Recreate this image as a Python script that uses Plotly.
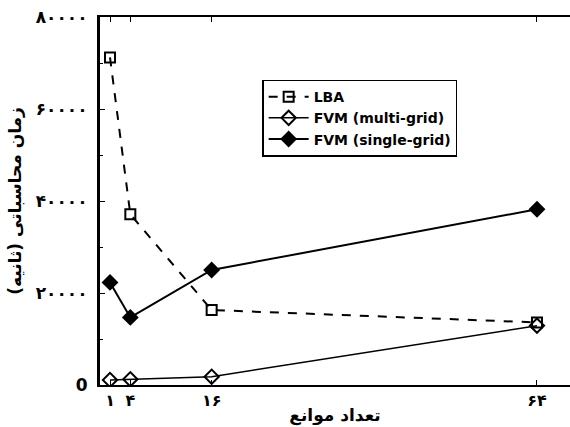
import plotly.graph_objects as go

obstacles = [1, 4, 16, 64]
lba = [71200, 37100, 16300, 13600]
fvm_multi = [1100, 1250, 1800, 12900]
fvm_single = [22300, 14700, 25000, 38200]

x_tick_vals = [1, 4, 16, 64]
x_tick_text = ["۱", "۴", "۱۶", "۶۴"]
y_tick_vals = [0, 20000, 40000, 60000, 80000]
y_tick_text = ["0", "۲۰۰۰۰", "۴۰۰۰۰", "۶۰۰۰۰", "۸۰۰۰۰"]

x_title = "تعداد موانع"
y_title = "زمان محاسباتی (ثانیه)"

fig = go.Figure()
fig.add_trace(go.Scatter(
    x=obstacles, y=lba, name="LBA", mode="lines+markers",
    line=dict(color="black", width=2, dash="dash"),
    marker=dict(symbol="square-open", size=10, color="black", line=dict(width=2)),
))
fig.add_trace(go.Scatter(
    x=obstacles, y=fvm_multi, name="FVM (multi-grid)", mode="lines+markers",
    line=dict(color="black", width=1.5),
    marker=dict(symbol="diamond-open", size=11, color="black", line=dict(width=2)),
))
fig.add_trace(go.Scatter(
    x=obstacles, y=fvm_single, name="FVM (single-grid)", mode="lines+markers",
    line=dict(color="black", width=2),
    marker=dict(symbol="diamond", size=13, color="black"),
))

bold = dict(family="DejaVu Sans", color="black", weight="bold")

fig.update_layout(
    width=570, height=427,
    margin=dict(l=100, r=0, t=17, b=42, autoexpand=False),
    paper_bgcolor="white", plot_bgcolor="white",
    showlegend=True,
    legend=dict(
        x=0.345, y=0.83, xanchor="left", yanchor="top",
        bordercolor="black", borderwidth=1.5, bgcolor="white",
        font=dict(family="DejaVu Sans", size=14, color="black", weight="bold"),
        tracegroupgap=0, itemwidth=40,
    ),
    xaxis=dict(
        range=[-0.475, 68.87], automargin=False,
        tickvals=x_tick_vals, ticktext=x_tick_text,
        ticks="inside", ticklen=5, tickcolor="black",
        showline=True, linecolor="black", linewidth=2, mirror="ticks",
        showgrid=False, zeroline=False,
        tickfont=dict(size=16, **bold),
        title=dict(text=x_title, font=dict(size=17, **bold), standoff=0),
    ),
    yaxis=dict(
        range=[0, 80000], automargin=False,
        tickvals=y_tick_vals, ticktext=y_tick_text,
        ticks="inside", ticklen=5, tickcolor="black",
        minor=dict(ticks="inside", dtick=10000, ticklen=3, tickcolor="black"),
        showline=True, linecolor="black", linewidth=3, mirror=False,
        showgrid=False, zeroline=False,
        ticklabelstandoff=6,
        tickfont=dict(size=17, **bold),
        title=dict(text=y_title, font=dict(size=17, **bold), standoff=10),
    ),
)

fig.write_html("out.html", post_script="document.body.style.margin='0';",
               config={"displayModeBar": False})
